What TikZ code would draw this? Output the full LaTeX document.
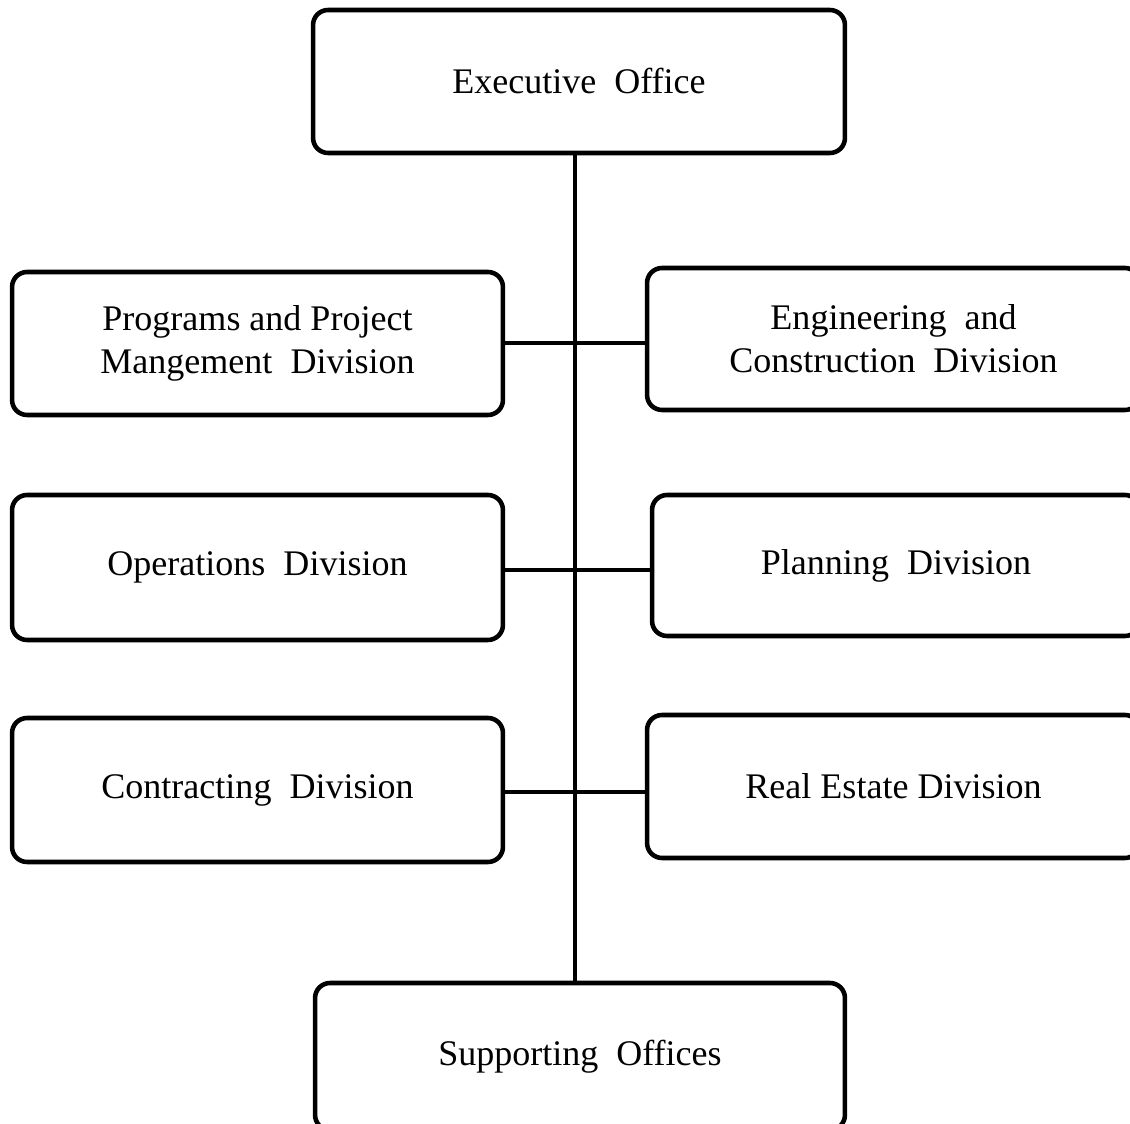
\documentclass[tikz,border=0pt]{standalone}
\usepackage{fontspec}
\setmainfont{Liberation Serif}
\begin{document}
\begin{tikzpicture}[x=0.02cm,y=-0.02cm,
  orgbox/.style={draw, line width=2.6pt, rounded corners=0.3cm, inner sep=0pt, outer sep=0pt,
    align=center, font=\fontsize{20.5}{24.5}\selectfont},
  link/.style={line width=2.5pt}]
\useasboundingbox (0,0) rectangle (1130,1124);
\clip (0,0) rectangle (1130,1124);
\node[orgbox, minimum width=10.64cm, minimum height=2.86cm] (exec) at (579,81.5) {Executive\ \ Office};
\node[orgbox, minimum width=9.82cm, minimum height=2.86cm] (prog) at (257.5,343.5) {Programs and Project\\Mangement\ \ Division};
\node[orgbox, minimum width=9.86cm, minimum height=2.84cm] (eng) at (893.5,339) {Engineering\ \ and\\Construction\ \ Division};
\node[orgbox, minimum width=9.82cm, minimum height=2.9cm] (ops) at (257.5,567.5) {Operations\ \ Division};
\node[orgbox, minimum width=9.76cm, minimum height=2.82cm] (plan) at (896,565.5) {Planning\ \ Division};
\node[orgbox, minimum width=9.82cm, minimum height=2.88cm] (contr) at (257.5,790) {Contracting\ \ Division};
\node[orgbox, minimum width=9.86cm, minimum height=2.86cm] (real) at (893.5,786.5) {Real Estate Division};
\node[orgbox, minimum width=10.6cm, minimum height=2.94cm] (supp) at (580,1056.5) {Supporting\ \ Offices};
\draw[link] (exec.south -| 575,0) -- (575,983);
\draw[link] (prog.east |- 0,343) -- (eng.west |- 0,343);
\draw[link] (ops.east |- 0,570) -- (plan.west |- 0,570);
\draw[link] (contr.east |- 0,792) -- (real.west |- 0,792);
\end{tikzpicture}
\end{document}
